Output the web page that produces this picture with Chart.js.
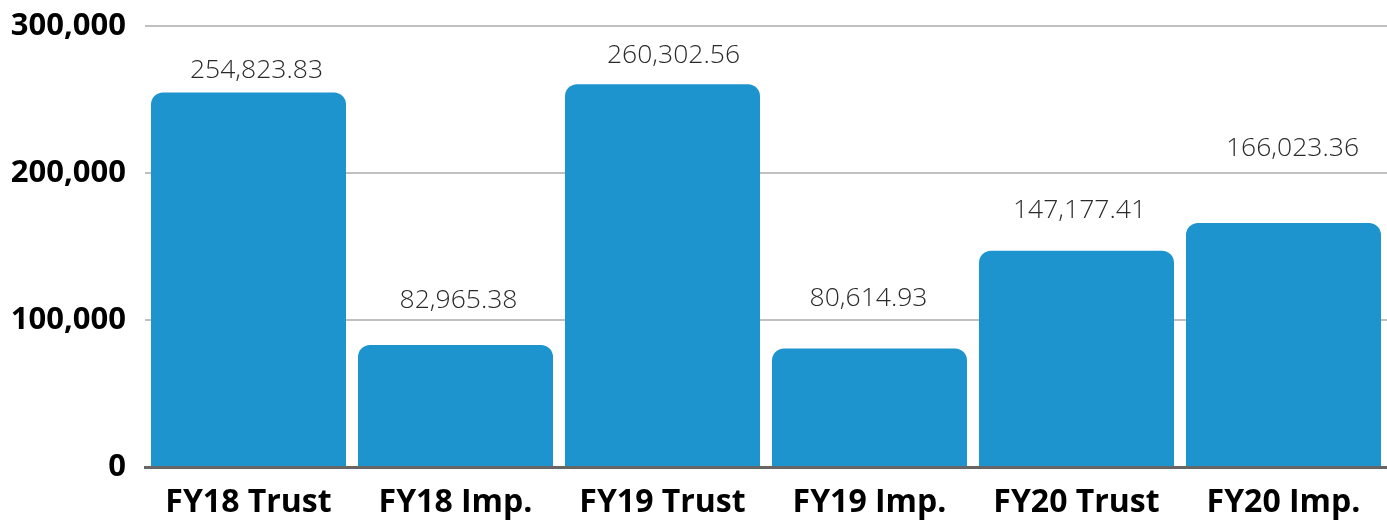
<!DOCTYPE html>
<html>
<head>
<meta charset="utf-8">
<script src="https://cdn.jsdelivr.net/npm/chart.js@4/dist/chart.umd.min.js"></script>
<style>
  html, body { margin: 0; padding: 0; background: #fff; }
  #wrap { width: 1387px; height: 523px; }
</style>
</head>
<body>
<div id="wrap"><canvas id="chart"></canvas></div>
<script>
const categories = ['FY18 Trust', 'FY18 Imp.', 'FY19 Trust', 'FY19 Imp.', 'FY20 Trust', 'FY20 Imp.'];
const amounts = [254823.83, 82965.38, 260302.56, 80614.93, 147177.41, 166023.36];
const yTicks = [0, 100000, 200000, 300000];

const fmt = v => v.toLocaleString('en-US', { minimumFractionDigits: 2, maximumFractionDigits: 2 });

// value labels over each bar; the original nudges each one a bit differently
const barLabels = {
    id: 'barLabels',
    afterDatasetsDraw(chart, args, opts) {
        const ctx = chart.ctx;
        const meta = chart.getDatasetMeta(0);
        ctx.save();
        ctx.font = '300 26.5px "Open Sans"';
        ctx.fillStyle = '#2a2a2a';
        ctx.textAlign = 'center';
        ctx.textBaseline = 'alphabetic';
        meta.data.forEach((bar, i) => {
            const dx = opts.dx[i] || 0;
            const gap = opts.gap[i] || 14;
            ctx.fillText(fmt(amounts[i]), bar.x + dx, bar.y - gap);
        });
        ctx.restore();
    }
};

new Chart(document.getElementById('chart'), {
    type: 'bar',
    data: {
        labels: categories,
        datasets: [{
            data: amounts,
            backgroundColor: '#1D94CE',
            borderRadius: { topLeft: 12, topRight: 12, bottomLeft: 0, bottomRight: 0 },
            borderSkipped: 'bottom',
            barPercentage: 0.942,
            categoryPercentage: 1
        }]
    },
    options: {
        responsive: true,
        maintainAspectRatio: false,
        animation: false,
        layout: { padding: { top: 26, right: 0, left: 0, bottom: 0 } },
        plugins: {
            legend: { display: false },
            tooltip: { enabled: false },
            barLabels: {
                dx: [8, 3, 11, -1, 3, 9],
                gap: [14, 37, 21, 42, 33, 67]
            }
        },
        scales: {
            x: {
                grid: { display: false },
                border: { color: '#666', width: 3 },
                ticks: {
                    color: '#000',
                    padding: 9,
                    font: { family: 'Open Sans', weight: 'bold', size: 32 }
                },
                afterFit: s => { s.height = 56; }
            },
            y: {
                min: 0,
                max: 300000,
                afterBuildTicks: s => { s.ticks = yTicks.map(v => ({ value: v })); },
                grid: { color: '#C0C0C0', lineWidth: 2, drawTicks: false },
                border: { display: false },
                ticks: {
                    color: '#000',
                    padding: 19,
                    font: { family: 'Open Sans', weight: 'bold', size: 31 },
                    callback: v => v.toLocaleString('en-US')
                },
                afterFit: s => { s.width = 145; s.paddingTop = 0; s.paddingBottom = 0; }
            }
        }
    },
    plugins: [barLabels]
});
</script>
</body>
</html>
